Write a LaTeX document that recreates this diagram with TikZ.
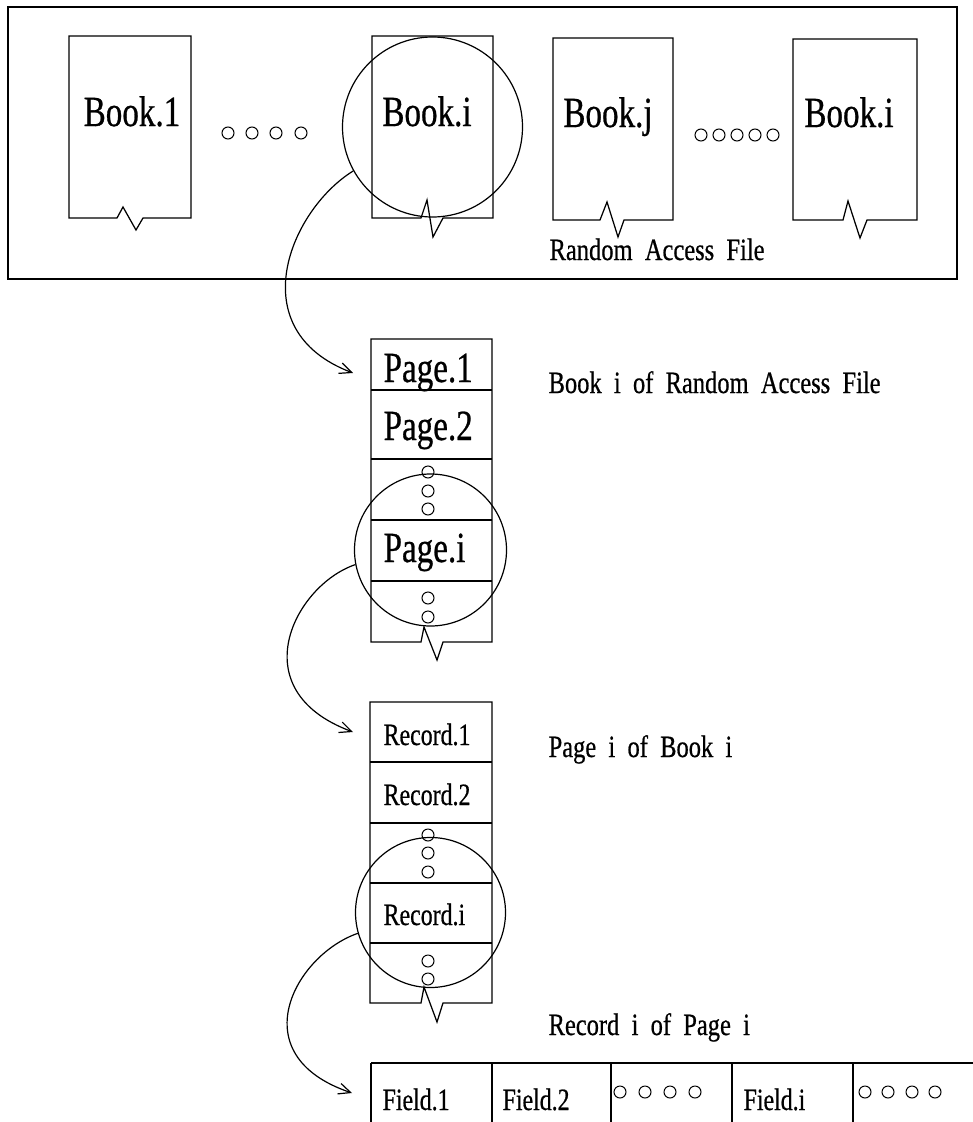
\documentclass[tikz,border=0pt]{standalone}
\usepackage{fontspec}
\setmainfont{Liberation Serif}
\newfontfamily\lblfont[FakeStretch=0.77,FakeBold=0.6]{Liberation Serif}
\newfontfamily\capfont[FakeStretch=0.79,FakeBold=0.6,WordSpace=2.0]{Liberation Serif}
\usetikzlibrary{arrows.meta}
\begin{document}
\begin{tikzpicture}[x=1pt,y=-1pt,line width=1.25pt,line join=miter,
  biglbl/.style={font=\lblfont\fontsize{43}{45}\selectfont,inner sep=0pt},
  midlbl/.style={font=\lblfont\fontsize{31}{33}\selectfont,inner sep=0pt,anchor=base west},
  caplbl/.style={font=\capfont\fontsize{31}{33}\selectfont,inner sep=0pt,anchor=base west},
  ring/.style={circle,draw,line width=1.2pt,inner sep=0pt},
  dotc/.style={circle,draw,line width=1pt,minimum size=12pt,inner sep=0pt},
  arr/.style={-{Straight Barb[length=12pt,width=11pt,line width=1.2pt]},line width=1.2pt}]
\useasboundingbox (0,0) rectangle (973,1122);

% outer frame
\draw[line width=1.4pt] (8,7) rectangle (957,279);

% books
\draw (69,36) -- (191,36) -- (191,218) -- (143,218) -- (136,230) -- (123,207) -- (117,218) -- (69,218) -- cycle;
\draw (372,36) -- (493,36) -- (493,218) -- (443,218) -- (433,237) -- (427,200) -- (421,218) -- (372,218) -- cycle;
\draw (553,38) -- (673,38) -- (673,220) -- (624,220) -- (618,237) -- (607,202) -- (600,220) -- (553,220) -- cycle;
\draw (793,39) -- (917,39) -- (917,220) -- (867,220) -- (860,238) -- (848,201) -- (843,220) -- (793,220) -- cycle;

\node[biglbl,anchor=base] (b1) at (132,126) {Book.1};
\node[biglbl,anchor=base] (bi) at (427,126) {Book.i};
\node[biglbl,anchor=base] (bj) at (608,127) {Book.j};
\node[biglbl,anchor=base] (bk) at (849,127) {Book.i};

\foreach \x [count=\n] in {228,252,276,301} \node[dotc] (ta\n) at (\x,133) {};
\foreach \x [count=\n] in {701,719,737,755,773} \node[dotc] (tb\n) at (\x,135) {};

\node[caplbl] (raf) at (549,260) {Random Access File};

\node[ring,minimum size=180pt] (ci1) at (432.5,127) {};

% page column
\draw (371,339) -- (492,339) -- (492,642) -- (443,642) -- (437,660) -- (424,627) -- (421,642) -- (371,642) -- cycle;
\foreach \y in {390,459,520,581} \draw (371,\y) -- (492,\y);
\node[midlbl,font=\lblfont\fontsize{43}{45}\selectfont] (p1) at (383,382) {Page.1};
\node[midlbl,font=\lblfont\fontsize{43}{45}\selectfont] (p2) at (383,440) {Page.2};
\node[midlbl,font=\lblfont\fontsize{43}{45}\selectfont] (pi) at (383,562) {Page.i};
\foreach \y [count=\n] in {472,491,509} \node[dotc] (pa\n) at (428,\y) {};
\foreach \y [count=\n] in {598,617} \node[dotc] (pb\n) at (428,\y) {};
\node[ring,minimum size=152pt] (ci2) at (430.5,550) {};
\node[caplbl] (cap1) at (548,393) {Book i of Random Access File};

% record column
\draw (370,702) -- (492,702) -- (492,1003) -- (443,1003) -- (437,1022) -- (424,987) -- (421,1003) -- (370,1003) -- cycle;
\foreach \y in {762,823,883,943} \draw (370,\y) -- (492,\y);
\node[midlbl] (r1) at (383,745) {Record.1};
\node[midlbl] (r2) at (383,805) {Record.2};
\node[midlbl] (ri) at (383,925) {Record.i};
\foreach \y [count=\n] in {835,853,872} \node[dotc] (ra\n) at (428,\y) {};
\foreach \y [count=\n] in {961,979} \node[dotc] (rb\n) at (428,\y) {};
\node[ring,minimum size=150pt] (ci3) at (430.5,912.5) {};
\node[caplbl] (cap2) at (548,757) {Page i of Book i};
\node[caplbl] (cap3) at (548,1035) {Record i of Page i};

% field row
\draw[line width=1.7pt] (371,1063) -- (973,1063);
\foreach \x in {371,492,611,732,853} \draw (\x,1063) -- (\x,1122);
\node[midlbl] (f1) at (382,1110) {Field.1};
\node[midlbl] (f2) at (502,1110) {Field.2};
\node[midlbl] (fi) at (743,1110) {Field.i};
\foreach \x [count=\n] in {620,645,670,695} \node[dotc] (fa\n) at (\x,1092) {};
\foreach \x [count=\n] in {865,888,912,935} \node[dotc] (fb\n) at (\x,1092) {};

% connectors
\coordinate (t1) at (353,373);
\coordinate (t2) at (353,732);
\coordinate (t3) at (352,1093);
\draw[arr] (ci1.209) .. controls (290,210) and (240,330) .. (t1);
\draw[arr] (ci2.191) .. controls (295,585) and (240,690) .. (t2);
\draw[arr] (ci3.196) .. controls (295,955) and (240,1055) .. (t3);
\end{tikzpicture}
\end{document}
